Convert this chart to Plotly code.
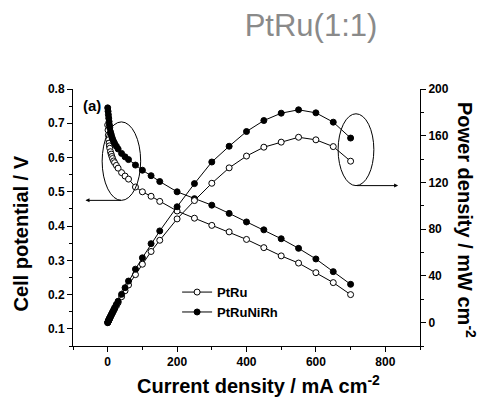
import plotly.graph_objects as go

# Current density (mA cm^-2)
current = [0, 1, 2, 3, 4, 5, 6, 8, 10, 12, 14, 17, 20, 25, 30, 40, 50, 60, 80, 100,
           125, 150, 200, 250, 300, 350, 400, 450, 500, 550, 600, 650, 700]

# Cell potential (V)
v_ptru = [0.695, 0.68, 0.665, 0.652, 0.642, 0.634, 0.627, 0.617, 0.61, 0.603, 0.597, 0.59,
          0.585, 0.577, 0.569, 0.556, 0.546, 0.537, 0.514, 0.50, 0.487, 0.472, 0.444, 0.423,
          0.402, 0.383, 0.361, 0.337, 0.313, 0.292, 0.264, 0.235, 0.20]
v_ptrunirh = [0.745, 0.735, 0.725, 0.715, 0.705, 0.695, 0.687, 0.675, 0.668, 0.66, 0.654, 0.647,
              0.641, 0.633, 0.625, 0.612, 0.602, 0.594, 0.578, 0.563, 0.547, 0.53, 0.50, 0.48,
              0.461, 0.437, 0.412, 0.389, 0.363, 0.335, 0.304, 0.267, 0.230]

# Power density (mW cm^-2)
p_ptru = [0, 0.7, 1.3, 2.0, 2.6, 3.2, 3.8, 4.9, 6.1, 7.2, 8.4, 10.0, 11.7, 14.4, 17.1, 22.2,
          27.3, 32.2, 41.1, 50.0, 60.9, 70.5, 88.8, 104.5, 119.3, 132.5, 142.6, 150.2, 154.5,
          158.7, 156.5, 150.7, 138.2]
p_ptrunirh = [0, 0.7, 1.5, 2.2, 2.8, 3.5, 4.1, 5.4, 6.7, 7.9, 9.1, 10.9, 12.8, 15.6, 18.3, 24.2,
              29.9, 35.6, 45.8, 55.5, 67.6, 78.5, 99.2, 119.0, 137.5, 151.0, 163.6, 173.0, 179.3,
              182.2, 179.6, 171.6, 158.0]

names = ["PtRu", "PtRuNiRh"]

open_marker = dict(symbol="circle", size=6, color="white", line=dict(color="black", width=1))
fill_marker = dict(symbol="circle", size=6, color="black", line=dict(color="black", width=1))
line_style = dict(color="black", width=1)

fig = go.Figure()
fig.add_trace(go.Scatter(x=current, y=v_ptru, mode="lines+markers", name=names[0],
                         marker=open_marker, line=line_style, yaxis="y"))
fig.add_trace(go.Scatter(x=current, y=v_ptrunirh, mode="lines+markers", name=names[1],
                         marker=fill_marker, line=line_style, yaxis="y"))
fig.add_trace(go.Scatter(x=current, y=p_ptru, mode="lines+markers", name=names[0],
                         marker=open_marker, line=line_style, yaxis="y2", showlegend=False))
fig.add_trace(go.Scatter(x=current, y=p_ptrunirh, mode="lines+markers", name=names[1],
                         marker=fill_marker, line=line_style, yaxis="y2", showlegend=False))

tickfont = dict(family="Liberation Sans", size=12, color="black", weight="bold")
titlefont = dict(family="Liberation Sans", size=20, color="black", weight="bold")

fig.update_layout(
    width=482, height=400,
    margin=dict(l=73, r=62, t=89, b=54),
    paper_bgcolor="white", plot_bgcolor="white",
    showlegend=True,
    legend=dict(x=0.300, y=0.268, xanchor="left", yanchor="top",
                bgcolor="rgba(0,0,0,0)", font=dict(family="Liberation Sans", size=13,
                                                  color="black", weight="bold"),
                tracegroupgap=0, itemwidth=30),
    title=dict(text="PtRu(1:1)", x=311 / 482, xanchor="center", xref="container",
               y=1 - 25 / 400, yanchor="middle", yref="container",
               font=dict(family="Liberation Sans", size=31, color="#8a8a8a")),
    xaxis=dict(range=[-100, 900], tick0=0, dtick=200, ticks="outside", ticklen=5,
               tickcolor="black", showline=True, linecolor="black", linewidth=1,
               showgrid=False, zeroline=False, tickfont=tickfont,
               minor=dict(dtick=100, tick0=0, ticks="outside", ticklen=3, tickcolor="black")),
    xaxis2=dict(range=[-100, 900], overlaying="x", side="top", tick0=0, dtick=200,
                ticks="inside", ticklen=5, tickcolor="black", showline=True,
                linecolor="black", linewidth=1, showgrid=False, zeroline=False,
                showticklabels=False,
                minor=dict(dtick=100, tick0=0, ticks="inside", ticklen=3, tickcolor="black")),
    yaxis=dict(range=[0.05, 0.8], tick0=0.1, dtick=0.1, ticks="outside", ticklen=5,
               tickcolor="black", showline=True, linecolor="black", linewidth=1,
               showgrid=False, zeroline=False, tickfont=tickfont, tickformat=".1f",
               minor=dict(dtick=0.05, tick0=0.05, ticks="outside", ticklen=3, tickcolor="black")),
    yaxis2=dict(range=[-20, 200], overlaying="y", side="right", tick0=0, dtick=40,
                ticks="outside", ticklen=5, tickcolor="black", showline=True,
                linecolor="black", linewidth=1, showgrid=False, zeroline=False,
                tickfont=tickfont,
                minor=dict(dtick=20, tick0=0, ticks="outside", ticklen=3, tickcolor="black")),
)

# Axis titles (as annotations for exact placement / orientation)
fig.add_annotation(text="Current density / mA cm<sup>-2</sup>", xref="paper", yref="paper",
                   x=(258.5 - 73) / 347, y=(346 - 384) / 257, xanchor="center", yanchor="middle",
                   showarrow=False, font=titlefont)
fig.add_annotation(text="Cell potential / V", xref="paper", yref="paper",
                   x=(20.5 - 73) / 347, y=(346 - 234) / 257, xanchor="center", yanchor="middle",
                   textangle=-90, showarrow=False, font=titlefont)
fig.add_annotation(text="Power density / mW cm<sup>-2</sup>", xref="paper", yref="paper",
                   x=(467 - 73) / 347, y=(346 - 220) / 257, xanchor="center", yanchor="middle",
                   textangle=90, showarrow=False, font=titlefont)

# Ellipses marking curve groups
fig.add_shape(type="circle", xref="x", yref="y", x0=-16, x1=95, y0=0.475, y1=0.704,
              line=dict(color="black", width=1))
fig.add_shape(type="circle", xref="x", yref="y2", x0=664, x1=767, y0=117.3, y1=178.8,
              line=dict(color="black", width=1))

# Arrows
fig.add_annotation(x=-64, y=0.475, ax=43, ay=0.475, xref="x", yref="y", axref="x", ayref="y",
                   text="", showarrow=True, arrowhead=2, arrowsize=0.8, arrowwidth=1,
                   arrowcolor="black")
fig.add_annotation(x=837, y=117.3, ax=714, ay=117.3, xref="x", yref="y2", axref="x", ayref="y2",
                   text="", showarrow=True, arrowhead=2, arrowsize=0.8, arrowwidth=1,
                   arrowcolor="black")

fig.add_annotation(x=-46, y=0.753, xref="x", yref="y", text="(a)", showarrow=False,
                   font=dict(family="Liberation Sans", size=15, color="black", weight="bold"))

fig.write_html("out.html")
